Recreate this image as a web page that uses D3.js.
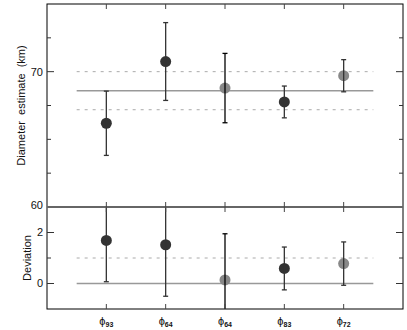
<!DOCTYPE html>
<html>
<head>
<meta charset="utf-8">
<script src="https://cdn.jsdelivr.net/npm/d3@7"></script>
<style>
  body { margin: 0; background: #fff; }
  svg { font-family: "Liberation Sans", Arial, sans-serif; }
</style>
</head>
<body>
<div id="plot"></div>
<script>
// ---------------------------------------------------------------
//  data
// ---------------------------------------------------------------
let labels = ["93", "64", "64", "83", "72"];          // phi subscripts
let shade = ["dark", "dark", "light", "dark", "light"];

// top panel: diameter estimate (km)
let diam = [66.95, 70.6, 69.03, 68.21, 69.76];
let diamErr = [1.9, 2.3, 2.05, 0.94, 0.95];
let diamMean = 68.87;
let diamBand = [67.75, 70.0];

// bottom panel: deviation
let dev = [1.69, 1.52, 0.14, 0.59, 0.78];
let devErr = [1.62, 2.02, 1.81, 0.84, 0.85];
let devRef = 0;
let devBand = [1];

// ---------------------------------------------------------------
const W = 407, H = 330;
const left = 47, right = 403;
const top1 = 4, bot1 = 207, bot2 = 309;

const svg = d3.select("#plot").append("svg")
    .attr("width", W).attr("height", H);

let x = d3.scaleLinear().domain([-1, 5]).range([left, right]);
let y1 = d3.scaleLinear().domain([62, 74]).range([bot1, top1]);
let y2 = d3.scaleLinear().domain([-1, 3]).range([bot2, bot1]);

const fillOf = s => s === "dark" ? "#333" : "#888";

svg.append("defs").append("clipPath").attr("id", "c1")
    .append("rect").attr("x", left).attr("y", top1).attr("width", right - left).attr("height", bot1 - top1);
svg.select("defs").append("clipPath").attr("id", "c2")
    .append("rect").attr("x", left).attr("y", bot1).attr("width", right - left).attr("height", bot2 - bot1);

function panel(yScale, vals, errs, mean, band, clip) {
    const g = svg.append("g").attr("clip-path", `url(#${clip})`);

    // dashed band
    band.forEach(b => {
        g.append("line")
            .attr("x1", x(-0.5)).attr("x2", x(4.5))
            .attr("y1", yScale(b)).attr("y2", yScale(b))
            .attr("stroke", "#aaa").attr("stroke-width", 1)
            .attr("stroke-dasharray", "3,5");
    });
    // mean line
    g.append("line")
        .attr("x1", x(-0.5)).attr("x2", x(4.5))
        .attr("y1", yScale(mean)).attr("y2", yScale(mean))
        .attr("stroke", "#999").attr("stroke-width", 1.5);

    // points
    g.selectAll("circle").data(vals).enter().append("circle")
        .attr("cx", (d, i) => x(i))
        .attr("cy", d => yScale(d))
        .attr("r", 5.5)
        .attr("fill", (d, i) => fillOf(shade[i]));

    // error bars (drawn over the points)
    vals.forEach((v, i) => {
        const col = i === 2 ? "#000" : "#333";
        const lo = yScale(v - errs[i]), hi = yScale(v + errs[i]);
        g.append("line")
            .attr("x1", x(i)).attr("x2", x(i))
            .attr("y1", lo).attr("y2", hi)
            .attr("stroke", col).attr("stroke-width", 1.3);
        [lo, hi].forEach(yy => {
            g.append("line")
                .attr("x1", x(i) - 2.5).attr("x2", x(i) + 2.5)
                .attr("y1", yy).attr("y2", yy)
                .attr("stroke", col).attr("stroke-width", 1.3);
        });
    });
}

panel(y1, diam, diamErr, diamMean, diamBand, "c1");
panel(y2, dev, devErr, devRef, devBand, "c2");

// ---------------------------------------------------------------
//  frames and ticks
// ---------------------------------------------------------------
svg.append("rect")
    .attr("x", left).attr("y", top1)
    .attr("width", right - left).attr("height", bot2 - top1)
    .attr("fill", "none").attr("stroke", "#000").attr("stroke-width", 1);

// panel separator
svg.append("line")
    .attr("x1", left).attr("x2", right)
    .attr("y1", bot1).attr("y2", bot1)
    .attr("stroke", "#666").attr("stroke-width", 2);

function yTicks(yScale, vals, len) {
    vals.forEach(v => {
        const yy = yScale(v);
        svg.append("line").attr("x1", left).attr("x2", left + len)
            .attr("y1", yy).attr("y2", yy).attr("stroke", "#333");
        svg.append("line").attr("x1", right - len).attr("x2", right)
            .attr("y1", yy).attr("y2", yy).attr("stroke", "#333");
    });
}
yTicks(y1, [70], 7);
yTicks(y1, [64, 66, 68, 72], 4);
yTicks(y2, [0, 2], 7);
yTicks(y2, [1], 4);

// x ticks along the top, separator and bottom
d3.range(labels.length).forEach(i => {
    const xx = x(i);
    [[top1, top1 + 5], [bot1 - 5, bot1 + 5], [bot2 - 5, bot2]].forEach(([a, b]) => {
        svg.append("line").attr("x1", xx).attr("x2", xx)
            .attr("y1", a).attr("y2", b).attr("stroke", "#444");
    });
});

// y tick labels
const tickLbl = (txt, yy) => svg.append("text")
    .attr("x", left - 4).attr("y", yy).attr("dy", "0.35em")
    .attr("text-anchor", "end").attr("font-size", 11).attr("fill", "#111")
    .text(txt);
tickLbl("70", y1(70));
tickLbl("60", y1(62) - 2);
tickLbl("2", y2(2));
tickLbl("0", y2(0));

// axis titles
svg.append("text")
    .attr("transform", `translate(25,${(top1 + bot1) / 2}) rotate(-90)`)
    .attr("text-anchor", "middle").attr("font-size", 11).attr("fill", "#111")
    .attr("word-spacing", 3)
    .text("Diameter estimate (km)");
svg.append("text")
    .attr("transform", `translate(31,${(bot1 + bot2) / 2}) rotate(-90)`)
    .attr("text-anchor", "middle").attr("font-size", 11).attr("fill", "#111")
    .text("Deviation");

// phi labels
labels.forEach((s, i) => {
    const t = svg.append("text")
        .attr("x", x(i)).attr("y", 325)
        .attr("text-anchor", "middle").attr("fill", "#111");
    t.append("tspan").attr("font-size", 11).text("\u03d5");
    t.append("tspan").attr("font-size", 7).attr("font-weight", "bold").attr("dy", 2).text(s);
});
</script>
</body>
</html>
